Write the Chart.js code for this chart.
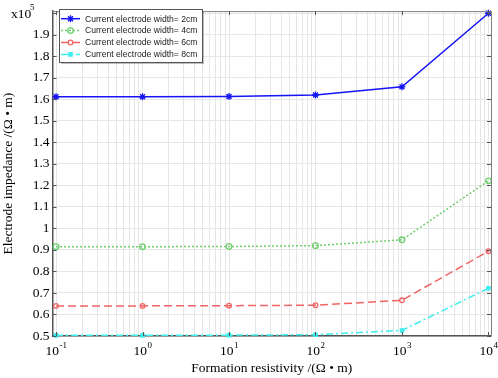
<!DOCTYPE html>
<html>
<head>
<meta charset="utf-8">
<script src="https://cdn.jsdelivr.net/npm/chart.js@4/dist/chart.umd.min.js"></script>
<style>
  body { margin: 0; background: #fff; }
  canvas { display: block; }
</style>
</head>
<body>
<canvas id="impChart" width="498" height="378"></canvas>
<script>
// resistivity values (Ohm*m) on log axis
var resistivity = [0.1, 1, 10, 100, 1000, 10000];

// electrode impedance, x10^5 Ohm*m
var width2cm = [1.612, 1.612, 1.613, 1.620, 1.658, 2.000];
var width4cm = [0.915, 0.915, 0.916, 0.920, 0.947, 1.221];
var width6cm = [0.640, 0.640, 0.641, 0.643, 0.666, 0.894];
var width8cm = [0.503, 0.503, 0.504, 0.506, 0.526, 0.722];

var seriesLabels = [
    'Current electrode width= 2cm',
    'Current electrode width= 4cm',
    'Current electrode width= 6cm',
    'Current electrode width= 8cm'
];

// tick labels
var xDecades = [-1, 0, 1, 2, 3, 4];
var yTicks = [0.5, 0.6, 0.7, 0.8, 0.9, 1.0, 1.1, 1.2, 1.3, 1.4, 1.5, 1.6, 1.7, 1.8, 1.9, 2.0];
var yLabelMax = 1.9;

var serif = "'Liberation Serif', 'Times New Roman', serif";

function toPoints(arr) {
    return arr.map(function (v, i) { return { x: resistivity[i], y: v }; });
}

var styles = [
    { color: '#1414f5', dash: [], point: 'star', r: 3.5, fill: '#1414f5' },
    { color: '#6fce6f', dash: [2, 2], point: 'circle', r: 2.8, fill: 'rgba(0,0,0,0)' },
    { color: '#f06464', dash: [8, 4], point: 'circle', r: 2.3, fill: 'rgba(0,0,0,0)' },
    { color: '#3ceeee', dash: [7, 3, 2, 3], point: 'rect', r: 2.3, fill: '#3ceeee' }
];

var allSeries = [width2cm, width4cm, width6cm, width8cm];

var datasets = allSeries.map(function (s, i) {
    var st = styles[i];
    return {
        label: seriesLabels[i],
        data: toPoints(s),
        borderColor: st.color,
        backgroundColor: st.fill,
        borderWidth: 1.5,
        borderDash: st.dash,
        pointStyle: st.point,
        pointRadius: st.r,
        pointBorderWidth: 1.3,
        pointBorderColor: st.color,
        pointBackgroundColor: st.fill,
        tension: 0,
        clip: false
    };
});

// extra bits: frame, inner ticks, superscript labels, legend box
var decorPlugin = {
    id: 'decor',
    afterDraw: function (chart) {
        var ctx = chart.ctx;
        var a = chart.chartArea;
        var x = chart.scales.x, y = chart.scales.y;
        ctx.save();

        // top + right frame
        ctx.strokeStyle = '#808080';
        ctx.lineWidth = 1;
        ctx.beginPath();
        ctx.moveTo(a.left, a.top + 0.5);
        ctx.lineTo(a.right + 0.5, a.top + 0.5);
        ctx.lineTo(a.right + 0.5, a.bottom);
        ctx.stroke();

        // inward ticks
        ctx.strokeStyle = '#555';
        ctx.beginPath();
        yTicks.forEach(function (v) {
            var py = Math.round(y.getPixelForValue(v)) + 0.5;
            ctx.moveTo(a.left, py); ctx.lineTo(a.left + 4, py);
            ctx.moveTo(a.right - 4, py); ctx.lineTo(a.right, py);
        });
        xDecades.forEach(function (e) {
            var px = Math.round(x.getPixelForValue(Math.pow(10, e))) + 0.5;
            ctx.moveTo(px, a.bottom); ctx.lineTo(px, a.bottom - 4);
            ctx.moveTo(px, a.top); ctx.lineTo(px, a.top + 4);
        });
        ctx.stroke();

        // x decade labels 10^e
        ctx.fillStyle = '#000';
        ctx.textBaseline = 'middle';
        xDecades.forEach(function (e) {
            var px = x.getPixelForValue(Math.pow(10, e));
            ctx.font = '13.5px ' + serif;
            var wb = ctx.measureText('10').width;
            ctx.font = '9px ' + serif;
            var we = ctx.measureText(String(e)).width;
            var x0 = px - (wb + we) / 2;
            ctx.font = '13.5px ' + serif;
            ctx.textAlign = 'left';
            ctx.fillText('10', x0, a.bottom + 15);
            ctx.font = '9px ' + serif;
            ctx.fillText(String(e), x0 + wb + 0.5, a.bottom + 10);
        });

        // x10^5 multiplier
        ctx.font = '13.5px ' + serif;
        ctx.textAlign = 'left';
        ctx.fillText('x10', 11, 14);
        ctx.font = '9px ' + serif;
        ctx.fillText('5', 30, 8);

        // legend
        var lx = 59, ly = 9, lw = 143, lh = 53;
        ctx.fillStyle = 'rgba(0,0,0,0.25)';
        ctx.fillRect(lx + 2, ly + 2, lw, lh);
        ctx.fillStyle = '#fff';
        ctx.fillRect(lx, ly, lw, lh);
        ctx.strokeStyle = '#555';
        ctx.lineWidth = 1;
        ctx.strokeRect(lx + 0.5, ly + 0.5, lw, lh);

        datasets.forEach(function (ds, i) {
            var ry = 18.7 + i * 11.9;
            ctx.strokeStyle = ds.borderColor;
            ctx.lineWidth = 1.5;
            ctx.setLineDash(ds.borderDash);
            ctx.beginPath();
            ctx.moveTo(61, ry); ctx.lineTo(80, ry);
            ctx.stroke();
            ctx.setLineDash([]);
            ctx.fillStyle = ds.pointBackgroundColor;
            ctx.lineWidth = 1.3;
            Chart.helpers.drawPoint(ctx, {
                pointStyle: ds.pointStyle,
                radius: ds.pointRadius,
                rotation: 0,
                borderWidth: 1.3
            }, 70.5, ry);
            ctx.fillStyle = '#222';
            ctx.font = "8.6px 'Liberation Sans', Arial, sans-serif";
            ctx.textAlign = 'left';
            ctx.textBaseline = 'middle';
            ctx.fillText(ds.label, 85, ry + 0.5);
        });

        ctx.restore();
    }
};

var ctx = document.getElementById('impChart').getContext('2d');

new Chart(ctx, {
    type: 'line',
    data: { datasets: datasets },
    options: {
        responsive: false,
        animation: false,
        layout: { padding: { top: 3, right: 7, left: 0, bottom: 0 } },
        plugins: {
            legend: { display: false },
            tooltip: { enabled: false }
        },
        scales: {
            x: {
                type: 'logarithmic',
                min: 0.091,
                max: 10700,
                afterBuildTicks: function (scale) {
                    var t = [];
                    for (var e = -2; e <= 4; e++) {
                        for (var m = 1; m <= 9; m++) {
                            var v = m * Math.pow(10, e);
                            if (v >= scale.min && v <= scale.max) t.push({ value: v });
                        }
                    }
                    scale.ticks = t;
                },
                afterFit: function (scale) { scale.height = 42; },
                ticks: { display: false },
                grid: { color: '#e6e6e6', lineWidth: 1, drawTicks: false },
                border: { display: true, color: '#555', width: 1.5 },
                title: {
                    display: true,
                    text: 'Formation resistivity /(Ω • m)',
                    color: '#000',
                    font: { family: serif, size: 13.5 },
                    padding: { top: 0, bottom: 1 }
                }
            },
            y: {
                type: 'linear',
                min: 0.5,
                max: 2.01,
                afterBuildTicks: function (scale) {
                    scale.ticks = yTicks.map(function (v) { return { value: v }; });
                },
                afterFit: function (scale) { scale.width = 52.5; },
                ticks: {
                    padding: 3,
                    color: '#000',
                    font: { family: serif, size: 13.5 },
                    callback: function (v) {
                        var r = Math.round(v * 10) / 10;
                        return r > yLabelMax ? '' : String(r);
                    }
                },
                grid: { color: '#e6e6e6', lineWidth: 1, drawTicks: false },
                border: { display: true, color: '#555', width: 1.5 },
                title: {
                    display: true,
                    text: 'Electrode impedance /(Ω • m)',
                    color: '#000',
                    font: { family: serif, size: 13.5 },
                    padding: { top: 0, bottom: 0 }
                }
            }
        }
    },
    plugins: [decorPlugin]
});
</script>
</body>
</html>
